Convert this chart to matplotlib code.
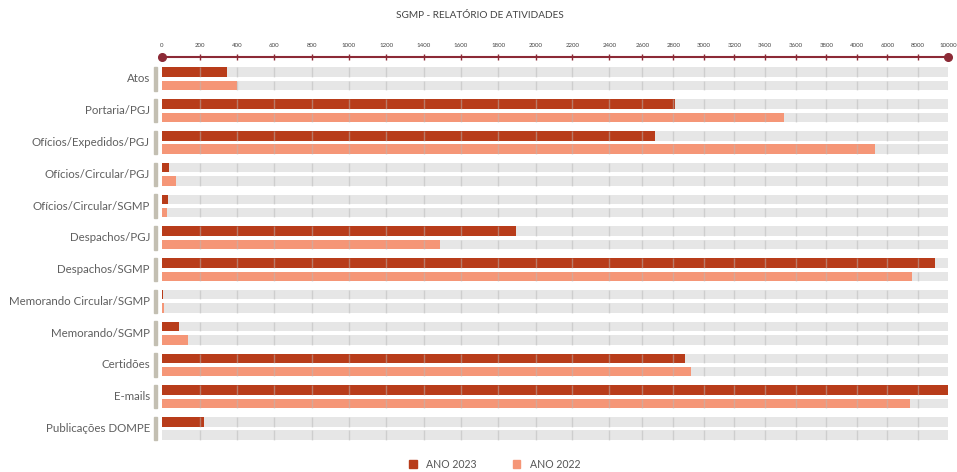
import numpy as np
import matplotlib
matplotlib.use("Agg")
import matplotlib.pyplot as plt
from matplotlib.patches import Rectangle
from matplotlib.transforms import blended_transform_factory

plt.rcParams['font.family'] = ['Lato', 'DejaVu Sans']

categories = [
    "Atos", "Portaria/PGJ", "Ofícios/Expedidos/PGJ", "Ofícios/Circular/PGJ",
    "Ofícios/Circular/SGMP", "Despachos/PGJ", "Despachos/SGMP",
    "Memorando Circular/SGMP", "Memorando/SGMP", "Certidões", "E-mails",
    "Publicações DOMPE",
]
ano_2023 = [345, 2811, 2680, 38, 34, 1893, 9097, 7, 93, 2877, 10000, 225]
ano_2022 = [400, 3526, 5176, 75, 27, 1485, 7613, 10, 138, 2916, 7503, 0]

# the original axis is not linear: tick values and their spacing as drawn
tick_vals = [0, 200, 400, 600, 800, 1000, 1200, 1400, 1600, 1800, 2000, 2200,
             2400, 2600, 2800, 3000, 3200, 3400, 3600, 3800, 4000, 6000, 8000, 10000]
tick_pos = [0, 37.5, 75, 112.3, 149.6, 187, 224.3, 261.6, 299, 336.3, 373.6, 410.3,
            447.3, 480.5, 511.3, 542, 572.5, 603, 633.7, 664.3, 694.7, 725.3, 755.8, 786.5]

c23 = "#b83c1a"
c22 = "#f59677"
bg = "#e6e6e6"
red_axis = "#8c2a36"
txt = "#5f5f5f"


def fwd(v):
    return np.interp(v, tick_vals, tick_pos)


def inv(p):
    return np.interp(p, tick_pos, tick_vals)


fig = plt.figure(figsize=(9.57, 4.72), dpi=100)
ax = fig.add_axes([0.1693, 0.0585, 0.8218, 0.8214])
ax.set_xscale('function', functions=(fwd, inv))

y = np.arange(len(categories))
off = 0.21
h = 0.3

ax.barh(y - off, [10000] * len(y), height=h, color=bg, zorder=1)
ax.barh(y + off, [10000] * len(y), height=h, color=bg, zorder=1)
ax.barh(y - off, ano_2023, height=h, color=c23, zorder=2)
ax.barh(y + off, ano_2022, height=h, color=c22, zorder=2)

grid_x = tick_vals[1:-1]
for yy in y:
    for dy in (-off, off):
        ax.vlines(grid_x, yy + dy - h / 2, yy + dy + h / 2,
                  color=(0.72, 0.72, 0.72), alpha=0.5, lw=1.0, zorder=3)

tr = blended_transform_factory(ax.transAxes, ax.transData)
for yy, name in zip(y, categories):
    ax.add_patch(Rectangle((-0.0102, yy - 0.368), 0.0042, 0.736, transform=tr,
                           color="#c3bfb2", clip_on=False))
    ax.text(-0.0153, yy, name, transform=tr, ha='right', va='center',
            fontsize=8.3, color=txt)

ax.set_xlim(0, 10000)
ax.set_ylim(11.5, -0.7)
ax.set_yticks([])

for s in ('left', 'right', 'bottom'):
    ax.spines[s].set_visible(False)
ax.spines['top'].set_color(red_axis)
ax.spines['top'].set_linewidth(1.5)
ax.xaxis.tick_top()
ax.set_xticks(tick_vals)
ax.set_xticklabels([str(v) for v in tick_vals])
ax.tick_params(axis='x', direction='inout', length=5, width=1, color=red_axis,
               labelsize=4.4, labelcolor="#444444", pad=4)
ax.plot([0, 10000], [-0.7, -0.7], 'o', color=red_axis, ms=5.5, clip_on=False, zorder=5)

fig.text(0.5016, 0.968, "SGMP - RELATÓRIO DE ATIVIDADES", ha='center', va='center',
         fontsize=7.2, color="#444444")

# legend at the bottom edge
for xs, label, col in ((409 / 957, "ANO 2023", c23), (512.7 / 957, "ANO 2022", c22)):
    fig.patches.append(Rectangle((xs, 4 / 472), 7.6 / 957, 7.6 / 472, color=col,
                                 transform=fig.transFigure, figure=fig))
    fig.text(xs + 17.5 / 957, 8 / 472, label, ha='left', va='center', fontsize=7.6,
             color="#555555")

fig.savefig("out.png", dpi=100)
